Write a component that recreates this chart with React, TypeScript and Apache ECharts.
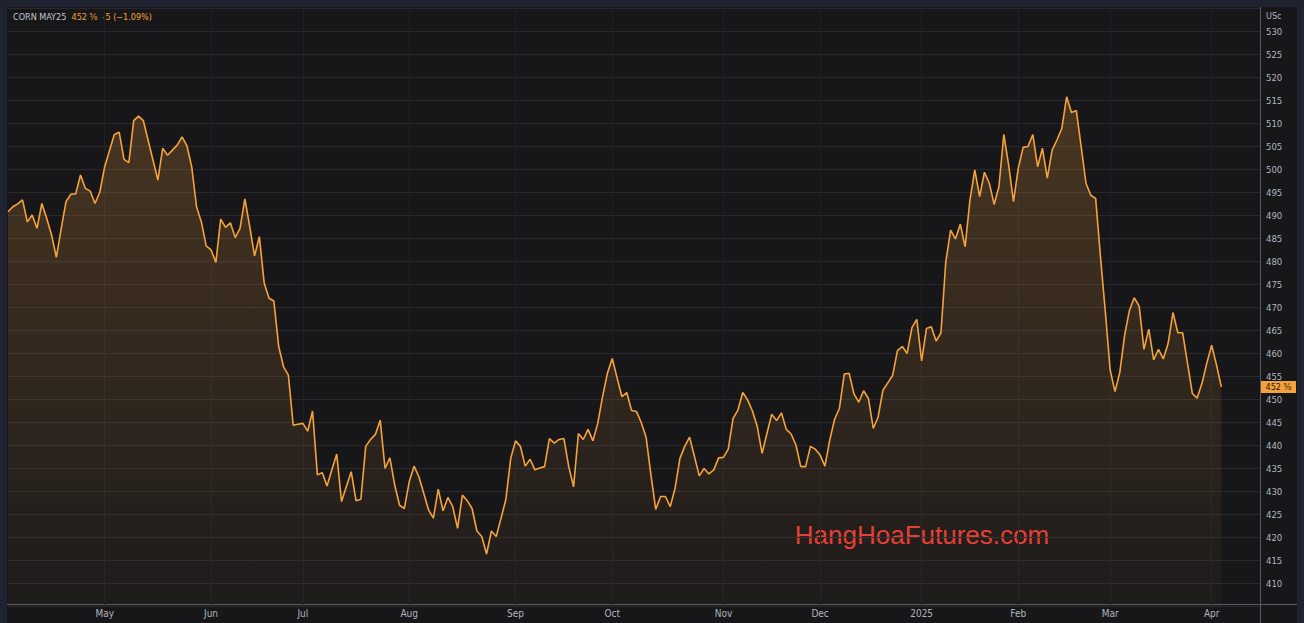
import React, { useEffect, useRef } from "react";
import * as echarts from "echarts";

// ---- data ----
const firstDay = "2024-04-03";
const lastAxisDay = "2025-04-15";
const marketHolidays = [
  "2024-05-27", "2024-06-19", "2024-07-04", "2024-09-02", "2024-11-28",
  "2024-12-25", "2025-01-01", "2025-01-09", "2025-01-20", "2025-02-17",
];
const monthNames = ["Jan", "Feb", "Mar", "Apr", "May", "Jun", "Jul", "Aug", "Sep", "Oct", "Nov", "Dec"];

// daily settlement (US cents / bushel), one per trading day from 2024-04-03
const prices = [
  490.7, 491.8, 492.4, 493.3, 488.5, 490.0, 487.1, 492.5, 489.3, 485.7,
  480.8, 487.0, 492.9, 494.5, 494.6, 498.7, 495.8, 495.2, 492.5, 495.0,
  500.5, 504.0, 507.5, 508.0, 502.1, 501.4, 510.5, 511.5, 510.5, 506.2,
  501.9, 497.6, 504.5, 503.0, 504.1, 505.2, 507.0, 505.1, 500.5, 491.8,
  488.5, 483.3, 482.4, 479.7, 489.1, 487.3, 488.3, 485.1, 487.1, 493.5,
  487.5, 481.1, 485.3, 475.2, 471.9, 471.3, 461.4, 457.0, 455.2, 444.3,
  444.5, 444.7, 443.0, 447.4, 433.5, 434.0, 431.1, 434.6, 438.0, 427.7,
  431.0, 434.2, 427.9, 428.2, 439.7, 441.2, 442.3, 445.4, 434.9, 437.2,
  431.3, 426.9, 426.2, 432.0, 435.4, 433.1, 429.5, 425.9, 424.1, 430.4,
  425.7, 428.6, 426.6, 421.9, 429.1, 427.9, 426.2, 421.3, 420.1, 416.3,
  421.3, 420.1, 424.1, 428.2, 437.1, 440.9, 439.7, 435.4, 436.9, 434.6,
  435.0, 435.3, 441.4, 440.4, 441.2, 441.4, 435.3, 430.9, 442.5, 441.2,
  443.4, 440.9, 444.7, 450.5, 455.6, 458.8, 454.6, 450.5, 451.4, 447.5,
  447.3, 444.9, 441.7, 433.5, 426.0, 428.8, 428.8, 426.6, 430.6, 437.1,
  439.7, 441.7, 437.5, 433.3, 434.9, 433.7, 434.6, 437.2, 437.3, 439.1,
  445.8, 447.6, 451.4, 449.8, 447.4, 444.0, 438.2, 442.5, 446.7, 445.3,
  447.0, 443.4, 442.4, 440.0, 435.3, 435.3, 439.7, 439.1, 437.8, 435.4,
  441.1, 445.6, 448.0, 455.4, 455.6, 451.1, 449.3, 451.8, 450.1, 443.6,
  446.1, 451.9, 453.5, 455.1, 460.5, 461.4, 459.9, 465.5, 467.3, 458.3,
  465.3, 465.7, 462.6, 464.4, 479.8, 486.7, 484.8, 488.0, 483.1, 493.3,
  499.8, 494.0, 499.3, 496.9, 492.3, 496.2, 507.5, 500.9, 492.9, 500.2,
  504.7, 504.9, 507.5, 500.5, 504.5, 498.0, 504.1, 506.3, 508.8, 515.7,
  512.3, 512.7, 504.9, 496.9, 494.3, 493.6, 480.9, 469.0, 456.3, 451.6,
  455.8, 463.9, 469.3, 472.0, 470.2, 460.8, 465.2, 458.5, 460.8, 458.7,
  462.1, 468.8, 464.4, 464.4, 457.8, 451.2, 450.2, 453.4, 457.8, 461.7,
  457.4, 452.625,
];

const yMin = 405;
const yMax = 535;
const yStep = 5;
const lastPriceLabel = "452 ⅝";
const symbolLabel = "CORN MAY25";
const quoteLabel = "452 ⅝  -5 (−1.09%)";
const unitLabel = "USc";
const watermarkText = "HangHoaFutures.com";

function tradingDays(start: string, end: string, closed: string[]): string[] {
  const out: string[] = [];
  const [sy, sm, sd] = start.split("-").map(Number);
  const [ey, em, ed] = end.split("-").map(Number);
  let t = Date.UTC(sy, sm - 1, sd);
  const tEnd = Date.UTC(ey, em - 1, ed);
  while (t <= tEnd) {
    const d = new Date(t);
    const dow = d.getUTCDay();
    const s = d.toISOString().slice(0, 10);
    if (dow !== 0 && dow !== 6 && closed.indexOf(s) < 0) out.push(s);
    t += 86400000;
  }
  return out;
}

const days = tradingDays(firstDay, lastAxisDay, marketHolidays);

const isMonthStart = (i: number) =>
  i > 0 && i < days.length && days[i].slice(0, 7) !== days[i - 1].slice(0, 7);

const FONT = "'Liberation Sans Narrow', 'DejaVu Sans Condensed', Roboto, sans-serif";
const PANEL = "#17171a";
const FRAME = "#1f2230";
const ORANGE = "#f6a23b";

export default function App() {
  const ref = useRef<HTMLDivElement>(null);
  useEffect(() => {
    if (!ref.current) return;
    const chart = echarts.init(ref.current, null, { renderer: "svg" });
    chart.setOption({
      animation: false,
      backgroundColor: PANEL,
      textStyle: { fontFamily: FONT },
      grid: { left: 8, right: 44, top: 8, height: 598, containLabel: false },
      xAxis: {
        type: "category",
        data: days,
        boundaryGap: false,
        axisLine: { show: false },
        axisTick: { show: false },
        axisLabel: {
          interval: (i: number) => isMonthStart(i),
          formatter: (v: string) => {
            const m = Number(v.slice(5, 7));
            return m === 1 ? v.slice(0, 4) : monthNames[m - 1];
          },
          color: "#b2b5be",
          fontSize: 10,
          fontFamily: FONT,
          margin: 2,
        },
        splitLine: {
          show: true,
          interval: (i: number) => isMonthStart(i),
          lineStyle: { color: "#212125", width: 1 },
        },
      },
      yAxis: {
        type: "value",
        position: "right",
        min: yMin,
        max: yMax,
        interval: yStep,
        axisLine: { show: false },
        axisTick: { show: false },
        axisLabel: {
          showMinLabel: false,
          showMaxLabel: false,
          color: "#b2b5be",
          fontSize: 9.5,
          fontFamily: FONT,
          margin: 6,
        },
        splitLine: { lineStyle: { color: "#29292d", width: 1 } },
      },
      series: [
        {
          type: "line",
          data: prices,
          symbol: "none",
          lineStyle: { color: ORANGE, width: 1.6 },
          areaStyle: {
            color: new echarts.graphic.LinearGradient(0, 0, 0, 1, [
              { offset: 0, color: "rgba(246,162,59,0.32)" },
              { offset: 1, color: "rgba(246,162,59,0.04)" },
            ]),
          },
        },
      ],
      graphic: [
        { id: "fTop", type: "rect", shape: { x: 0, y: 0, width: 1304, height: 7 }, style: { fill: FRAME }, silent: true },
        { id: "fLeft", type: "rect", shape: { x: 0, y: 0, width: 7, height: 623 }, style: { fill: FRAME }, silent: true },
        { id: "fRight", type: "rect", shape: { x: 1297, y: 0, width: 7, height: 623 }, style: { fill: FRAME }, silent: true },
        { id: "vSep", type: "line", shape: { x1: 1260.5, y1: 7, x2: 1260.5, y2: 623 }, style: { stroke: "#5a5a60", lineWidth: 1 }, silent: true },
        { id: "hSep", type: "line", shape: { x1: 7, y1: 604.5, x2: 1297, y2: 604.5 }, style: { stroke: "#5a5a60", lineWidth: 1 }, silent: true },
        {
          id: "header",
          type: "text",
          x: 13,
          y: 17,
          style: {
            text: "{a|" + symbolLabel + "}  {b|" + quoteLabel + "}",
            fontSize: 9,
            fontFamily: FONT,
            textVerticalAlign: "middle",
            rich: {
              a: { fill: "#c4c6cc", color: "#c4c6cc", fontSize: 9, fontFamily: FONT },
              b: { fill: ORANGE, color: ORANGE, fontSize: 9, fontFamily: FONT },
            },
          },
          silent: true,
        },
        {
          id: "unit",
          type: "text",
          x: 1266,
          y: 16,
          style: { text: unitLabel, fill: "#b2b5be", fontSize: 9, fontFamily: FONT, textVerticalAlign: "middle" },
          silent: true,
        },
        {
          id: "wm",
          type: "text",
          x: 922,
          y: 535,
          style: {
            text: watermarkText,
            fill: "#e53a35",
            fontSize: 26,
            fontFamily: "'Liberation Sans', Arial, sans-serif",
            textAlign: "center",
            textVerticalAlign: "middle",
          },
          silent: true,
        },
      ],
    });
    // price tag on the right axis at the last price, placed through the axis scale
    const lastPrice = prices[prices.length - 1];
    const py = chart.convertToPixel({ yAxisIndex: 0 }, lastPrice) as number;
    chart.setOption({
      graphic: [
        {
          id: "tagBox",
          type: "rect",
          shape: { x: 1261, y: py - 6, width: 35, height: 12 },
          style: { fill: ORANGE },
          silent: true,
        },
        {
          id: "tagText",
          type: "text",
          x: 1278.5,
          y: py,
          style: {
            text: lastPriceLabel,
            fill: "#1a1a1a",
            fontSize: 9,
            fontFamily: FONT,
            textAlign: "center",
            textVerticalAlign: "middle",
          },
          silent: true,
        },
      ],
    });
    return () => chart.dispose();
  }, []);
  return (
    <div
      ref={ref}
      style={{ position: "fixed", left: 0, top: 0, width: 1304, height: 623 }}
    />
  );
}
